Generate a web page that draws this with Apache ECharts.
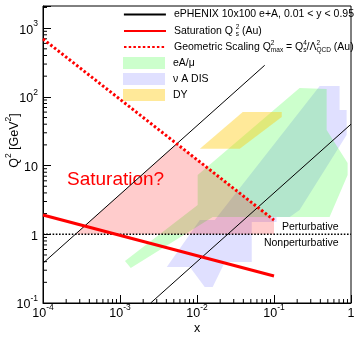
<!DOCTYPE html>
<html>
<head>
<meta charset="utf-8">
<script src="https://cdn.jsdelivr.net/npm/echarts@6/dist/echarts.min.js"></script>
<style>
  html, body { margin: 0; padding: 0; background: #fff; }
  #chart { width: 359px; height: 345px; }
</style>
</head>
<body>
<div id="chart"></div>
<script>
const FONT = '"Liberation Sans", Arial, Helvetica, sans-serif'

// axis ranges and tick helpers
const xRange = [1e-4, 1]
const yRange = [0.1, 2100]
const xDecades = [1e-4, 1e-3, 1e-2, 1e-1]
const yDecades = [0.1, 1, 10, 100, 1000]
const minorSteps = [2, 3, 4, 5, 6, 7, 8, 9]

// lines  [x, Q2]
const ephenixLow = [[1e-4, 0.38], [0.0757, 288]]   // y = 0.95
const ephenixHigh = [[0.0025, 0.1], [1, 40]]       // y = 0.01
const satQs2 = [[1e-4, 1.91], [0.1, 0.247]]
const geoScaling = [[1e-4, 697], [0.1, 1.61]]
const q2One = [[1e-4, 1], [1, 1]]

// filled regions  [x, Q2]
const satRegion = [[2.6e-4, 1], [5.46e-3, 20.7], [0.1, 1.61], [0.1, 1]]
const eaMu = [
  [1.16e-3, 0.408], [0.0102, 2.67], [0.0102, 7.3], [0.215, 135], [0.483, 130],
  [0.483, 33], [0.904, 10.9], [0.904, 7.3], [0.527, 1.79], [0.016, 1.79], [1.38e-3, 0.323]
]
const nuADis = [
  [4.05e-3, 0.334], [0.0109, 1.61], [0.017, 1.61], [0.392, 144], [0.711, 144],
  [0.711, 64.4], [0.877, 64.4], [0.877, 27.9], [0.215, 2.26], [0.16, 1.79],
  [0.108, 1.79], [0.108, 1.51], [0.0514, 1.51], [0.0514, 0.396], [0.023, 0.396],
  [0.016, 0.171], [0.0126, 0.171], [8.07e-3, 0.334]
]
const dyRegion = [[0.0109, 17.5], [0.0393, 60.3], [0.126, 60.3], [0.126, 51], [0.0359, 17.5]]

// annotations
const noteText = ['Saturation?', 'Perturbative', 'Nonperturbative']
const noteX = [2.05e-4, 0.69, 0.69]
const noteY = [6.17, 1.28, 0.747]
const noteStyle = [
  { fill: '#ff0000', fontSize: 19, align: 'left' },
  { fill: '#000', fontSize: 10.5, align: 'right' },
  { fill: '#000', fontSize: 10.5, align: 'right' }
]

const legendText = {
  ephenix: 'ePHENIX 10x100 e+A, 0.01 < y < 0.95',
  sat: 'Saturation Q {p|2}{b|s} (Au)',
  geo: 'Geometric Scaling Q{p|2}{b|max} = Q{p|4}{b|s}/\u039b{p|2}{b|QCD} (Au)',
  eamu: 'eA/\u03bc',
  nua: '\u03bd A DIS',
  dy: 'DY'
}

const chart = echarts.init(document.getElementById('chart'), null, { renderer: 'canvas' })

function minorTicks(decades, max) {
  const out = []
  decades.forEach(d => minorSteps.forEach(k => { if (d * k < max) out.push(d * k) }))
  return out
}

function powLabel(v, plainTen) {
  const l = Math.log10(v)
  const n = Math.round(l)
  if (Math.abs(l - n) > 1e-6) return ''
  if (n === 0) return '{a|1}'
  if (n === 1 && plainTen) return '{a|10}'
  return '{a|10}{s|' + n + '}'
}

const labelRich = {
  a: { fontSize: 12.5, lineHeight: 14, fontFamily: FONT, color: '#000' },
  s: { fontSize: 8.5, lineHeight: 9, padding: [0, 0, 12, 0], fontFamily: FONT, color: '#000' }
}

function polygonSeries(name, pts, fill) {
  return {
    name: name,
    type: 'custom',
    data: pts,
    silent: true,
    itemStyle: { color: fill },
    renderItem: (params, api) => {
      if (params.dataIndex !== 0) return null
      return {
        type: 'polygon',
        shape: { points: pts.map(p => api.coord(p)) },
        style: { fill: fill }
      }
    }
  }
}

function lineSeries(name, pts, color, width, type) {
  return {
    name: name,
    type: 'line',
    data: pts,
    symbol: 'none',
    silent: true,
    lineStyle: { color: color, width: width, type: type || 'solid' },
    itemStyle: { color: color }
  }
}

function tickSeries(values, axis, len) {
  return {
    type: 'custom',
    silent: true,
    data: values.map(v => axis === 'x' ? [v, yRange[0]] : [xRange[0], v]),
    renderItem: (params, api) => {
      const p = api.coord([api.value(0), api.value(1)])
      const shape = axis === 'x'
        ? { x1: p[0], y1: p[1], x2: p[0], y2: p[1] - len }
        : { x1: p[0], y1: p[1], x2: p[0] + len, y2: p[1] }
      return { type: 'line', shape: shape, style: { stroke: '#000', lineWidth: 1 } }
    }
  }
}

const legendRich = {
  p: { fontSize: 6.5, lineHeight: 7, padding: [0, 0, 7, 0], width: 0, fontFamily: FONT, color: '#000' },
  b: { fontSize: 6.5, lineHeight: 7, padding: [7, 0, 0, 0], fontFamily: FONT, color: '#000' }
}

function legendAt(name, top, kind) {
  const item = { name: name }
  if (kind === 'rect') item.icon = 'rect'
  else item.itemStyle = { opacity: 0 }
  if (name === 'ephenix') item.lineStyle = { width: 1.8 }
  return {
    data: [item],
    left: 123,
    top: top,
    padding: 0,
    itemWidth: 42,
    itemHeight: 12,
    selectedMode: false,
    formatter: n => legendText[n],
    textStyle: { fontFamily: FONT, fontSize: 10.5, color: '#000', padding: [0, 0, 0, 3], rich: legendRich }
  }
}

const option = {
  animation: false,
  backgroundColor: '#fff',
  textStyle: { fontFamily: FONT },
  grid: {
    left: 43, right: 8, top: 6, bottom: 42,
    show: true, borderColor: '#000', borderWidth: 1,
    containLabel: false, outerBoundsMode: 'none'
  },
  legend: [
    legendAt('ephenix', 9, 'line'),
    legendAt('sat', 24, 'line'),
    legendAt('geo', 40, 'line'),
    legendAt('eamu', 57, 'rect'),
    legendAt('nua', 73, 'rect'),
    legendAt('dy', 89, 'rect')
  ],
  xAxis: {
    type: 'log',
    logBase: 10,
    min: xRange[0],
    max: xRange[1],
    name: 'x',
    nameLocation: 'middle',
    nameGap: 19,
    nameMoveOverlap: false,
    nameTextStyle: { fontFamily: FONT, fontSize: 12.5, color: '#000' },
    axisLine: { lineStyle: { color: '#000', width: 1 } },
    axisTick: { inside: true, length: 8, lineStyle: { color: '#000' } },
    axisLabel: { margin: 4, formatter: v => powLabel(v, false), rich: labelRich },
    splitLine: { show: false }
  },
  yAxis: {
    type: 'log',
    logBase: 10,
    min: yRange[0],
    max: yRange[1],
    name: 'Q{s|2} [GeV{s|2}]',
    nameLocation: 'middle',
    nameGap: 22,
    nameMoveOverlap: false,
    nameTextStyle: { fontFamily: FONT, fontSize: 12.5, color: '#000', padding: [0, 0, 0, 28], rich: labelRich },
    axisLine: { lineStyle: { color: '#000', width: 1 } },
    axisTick: { inside: true, length: 8, lineStyle: { color: '#000' } },
    axisLabel: { margin: 5, padding: [4, 0, 0, 0], formatter: v => powLabel(v, true), rich: labelRich },
    splitLine: { show: false }
  },
  series: [
    polygonSeries('nua', nuADis, 'rgba(0,0,255,0.12)'),
    polygonSeries('eamu', eaMu, 'rgba(0,255,0,0.2)'),
    polygonSeries('dy', dyRegion, 'rgba(255,200,0,0.4)'),
    polygonSeries('satregion', satRegion, 'rgba(255,0,0,0.2)'),
    lineSeries('ephenix', ephenixLow, '#000', 1),
    lineSeries('ephenix', ephenixHigh, '#000', 1),
    lineSeries('q2one', q2One, '#000', 1.6, [1.6, 1.6]),
    lineSeries('geo', geoScaling, '#ff0000', 3, [2.5, 2.2]),
    lineSeries('sat', satQs2, '#ff0000', 3),
    tickSeries(minorTicks(xDecades, xRange[1]), 'x', 4),
    tickSeries(minorTicks(yDecades, yRange[1]), 'y', 4),
    {
      type: 'custom',
      silent: true,
      data: noteText.map((t, i) => [noteX[i], noteY[i]]),
      renderItem: (params, api) => {
        const i = params.dataIndex
        const p = api.coord([api.value(0), api.value(1)])
        const st = noteStyle[i]
        return {
          type: 'text',
          x: p[0],
          y: p[1],
          style: {
            text: noteText[i],
            fill: st.fill,
            font: st.fontSize + 'px ' + FONT,
            textAlign: st.align,
            textVerticalAlign: 'middle'
          }
        }
      }
    }
  ]
}

chart.setOption(option)
</script>
</body>
</html>
